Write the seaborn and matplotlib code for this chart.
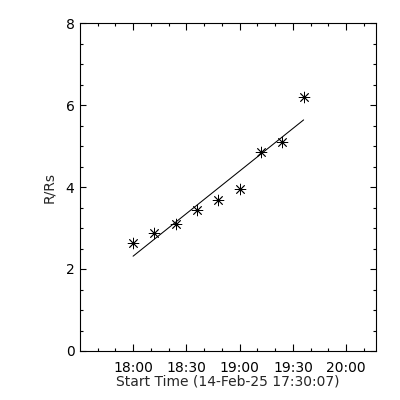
import numpy as np
import pandas as pd
import matplotlib
matplotlib.use("Agg")
import matplotlib.pyplot as plt
import seaborn as sns
from matplotlib.ticker import FixedLocator, MultipleLocator

# height-time points, start of the run is 17:30:07
start = "17:30:07"
end = "20:16:45"
times = ["18:00", "18:12", "18:24", "18:36", "18:48", "19:00", "19:12", "19:24", "19:36"]
heights = [2.63, 2.87, 3.09, 3.43, 3.68, 3.94, 4.85, 5.09, 6.19]
xtick_labels = ["18:00", "18:30", "19:00", "19:30", "20:00"]


def minutes(s):
    parts = [int(p) for p in s.split(":")]
    while len(parts) < 3:
        parts.append(0)
    return parts[0] * 60 + parts[1] + parts[2] / 60.0


t0 = minutes(start)
df = pd.DataFrame({"t": [minutes(t) - t0 for t in times], "r": heights})

sns.set_style("ticks")
plt.rcParams["font.family"] = ["DejaVu Sans"]

fig = plt.figure(figsize=(4, 4), dpi=100)
ax = fig.add_axes([0.2, 0.1225, 0.74, 0.82])

sns.regplot(data=df, x="t", y="r", ci=None, truncate=True, ax=ax,
            marker=(8, 2, 0), color="black",
            scatter_kws={"s": 60, "linewidths": 0.6, "alpha": 1},
            line_kws={"lw": 0.75})

ax.set_xlim(0, minutes(end) - t0)
ax.set_ylim(0, 8)

major = [minutes(s) - t0 for s in xtick_labels]
minor = list(np.arange(minutes("17:40"), minutes("20:20"), 10) - t0)
ax.xaxis.set_major_locator(FixedLocator(major))
ax.xaxis.set_minor_locator(FixedLocator(minor))
ax.set_xticklabels(xtick_labels)
ax.yaxis.set_major_locator(MultipleLocator(2))
ax.yaxis.set_minor_locator(MultipleLocator(0.5))

ax.tick_params(axis="both", which="both", direction="in", top=True, right=True,
               color="black", width=0.8, labelsize=10, labelcolor="black")
ax.tick_params(axis="x", which="major", length=5, pad=7)
ax.tick_params(axis="x", which="minor", length=2.5)
ax.tick_params(axis="y", which="major", length=4.5, pad=4)
ax.tick_params(axis="y", which="minor", length=2.2)

for sp in ax.spines.values():
    sp.set_visible(True)
    sp.set_linewidth(0.8)
    sp.set_color("black")

ax.set_xlabel("Start Time (14-Feb-25 17:30:07)", fontsize=10, labelpad=0)
ax.set_ylabel("R/Rs", fontsize=10, labelpad=7)

fig.savefig("out.png", dpi=100, facecolor="white")
